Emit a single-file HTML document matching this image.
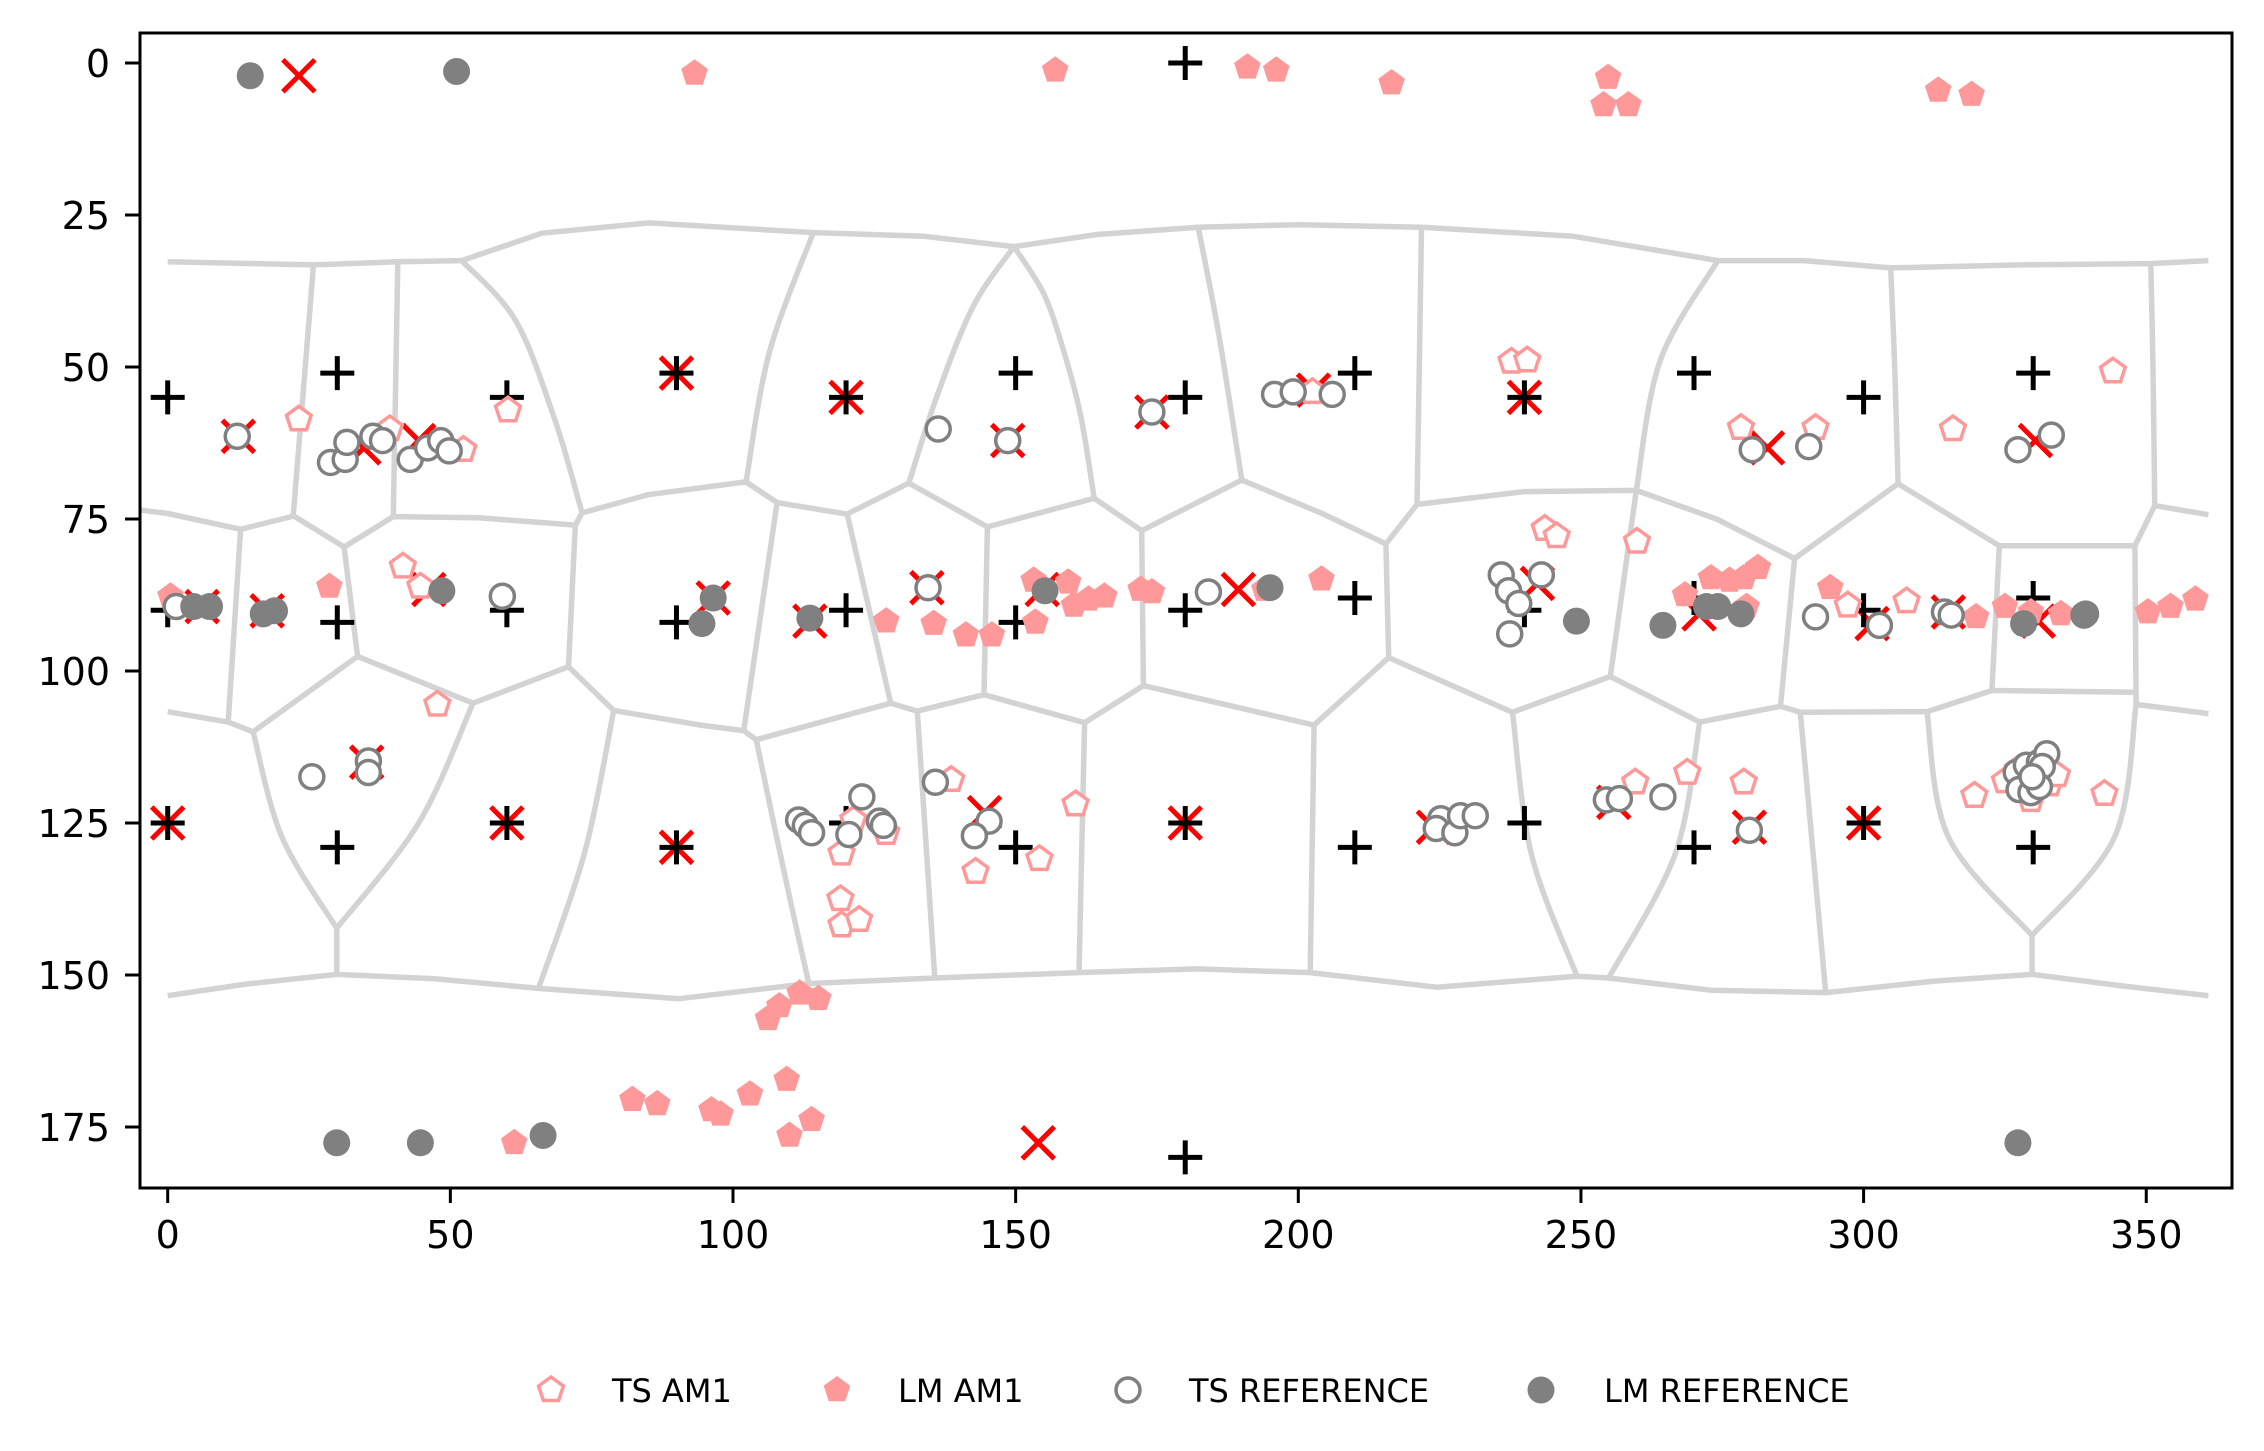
<!DOCTYPE html>
<html><head><meta charset="utf-8"><title>Conformer map</title>
<style>html,body{margin:0;padding:0;background:#fff}svg{display:block}</style></head>
<body>
<svg id="chart" xmlns="http://www.w3.org/2000/svg" width="2264" height="1451" viewBox="0 0 2264 1451" font-family="'DejaVu Sans','Liberation Sans',sans-serif">
<rect width="2264" height="1451" fill="#fff"/>
<g id="cells"></g>
<g id="marks"></g>
<rect x="140" y="33" width="2092" height="1155" fill="none" stroke="#000" stroke-width="3"/>
<g id="axes"></g>
<g id="legend"></g>
</svg>
<script>
// ---- data (degrees) ----
const xTicks = [0,50,100,150,200,250,300,350];
const yTicks = [0,25,50,75,100,125,150,175];
const gridX = [0,30,60,90,120,150,180,210,240,270,300,330,0,30,60,90,120,150,180,210,240,270,300,330,0,30,60,90,120,150,180,210,240,270,300,330,180,180];
const gridY = [55,51,55,51,55,51,55,51,55,51,55,51,90,92,90,92,90,92,90,88,90,88,90,88,125,129,125,129,125,129,125,129,125,129,125,129,0,180];
const xMarkX = [23.2,154,189.4,90,120,240,0,60,90,180,300,12.5,34.7,44.4,148.6,174.1,202.7,283,330.4,6.1,17.6,46.2,96.5,113.6,134.3,154.7,242.3,270.9,301.5,315,330.9,35.2,144.5,223.9,255.8,279.8];
const xMarkY = [2.1,177.6,86.6,51,55,55,125,125,129,125,125,61.4,63.3,62.1,62.1,57.4,53.8,63.3,62.1,89.4,90.1,86.6,88,91.8,86.3,86.6,85.6,90.6,92.2,90.3,91.8,115,123.3,125.7,121.6,125.7];
const tsAm1X = [23.2,39.3,60.2,52.3,41.6,44.7,47.7,202.5,237.7,240.5,243.6,245.7,259.9,278.3,291.5,315.8,344.1,297.2,307.6,259.6,268.8,278.8,138.6,160.6,121.3,127.1,119.2,142.9,154.2,119,119.2,122.3,319.6,325,327.3,329.6,332.9,334.2,342.6];
const tsAm1Y = [58.6,60.2,57.1,63.6,82.8,86.1,105.5,54.1,49.1,48.9,76.6,77.8,78.7,60,60,60.2,50.7,89.2,88.5,118.3,116.7,118.3,117.9,121.9,124.5,126.6,130,133,130.9,137.5,141.8,140.9,120.5,118.1,116.2,121.2,118.6,117.1,120.2];
const lmAm1X = [93.2,157,191,196.1,216.5,254.8,254,258.4,313.2,319.1,0.5,28.6,127.1,135.5,141.2,145.8,153.2,153.5,159.3,160.3,162.9,165.7,172.1,174.1,194,204.1,268.4,273,276.3,278.8,281.3,279.3,294.1,319.9,325,329.6,334.9,350.3,354.3,358.7,106.2,108.2,111.8,115.1,82.2,86.6,96.2,97.8,103,109.5,110,113.9,61.3];
const lmAm1Y = [1.7,1.2,0.7,1.2,3.3,2.4,6.9,6.9,4.5,5.2,87.7,86.1,91.8,92.2,94.1,94.1,85.1,92,85.4,89.2,88.2,87.7,86.6,87,86.6,84.9,87.5,84.7,85.1,84.7,83,89.4,86.3,91.1,89.4,90.3,90.6,90.3,89.4,88.2,157.2,155.1,153,153.9,170.5,171.2,172.2,172.9,169.6,167.2,176.4,173.8,177.6];
const tsRefX = [12.3,28.8,31.4,31.7,36.3,38,42.9,46,48.3,49.8,136.3,148.6,174.1,195.8,199.1,206,280.3,290.3,327.3,333.2,1.5,59.2,134.5,184.1,235.9,237.2,239,237.4,243,291.5,302.8,314.3,315.5,339,25.5,35.5,35.5,111.6,112.8,113.9,122.8,120.5,125.9,126.6,135.8,145.3,142.7,225.2,224.4,227.7,228.7,231.3,254.5,256.8,264.5,279.8,327,328.8,331.1,332.4,331.6,327.5,329.6,331.1,329.8];
const tsRefY = [61.4,65.7,65.2,62.4,61.4,62.1,65.2,63.3,62.1,63.8,60.2,62.1,57.4,54.5,54.1,54.5,63.6,63.1,63.6,61.2,89.4,87.7,86.3,87,84.2,86.8,88.9,93.9,84.2,91.1,92.5,90.3,90.8,90.8,117.4,114.8,116.7,124.5,125.4,126.6,120.7,126.9,124.7,125.4,118.3,124.7,127.1,124.3,125.9,126.6,123.8,123.8,121.2,121,120.7,126.2,116.7,115.5,115,113.6,115.7,119.5,120,119,117.4];
const lmRefX = [14.6,51.1,4.6,7.4,16.9,18.9,48.5,96.5,94.5,113.6,155.2,195,249.2,264.5,272.2,274.2,278.3,328.3,339.3,29.9,44.7,66.4,327.3];
const lmRefY = [2.1,1.4,89.4,89.4,90.6,90.1,86.8,88,92.2,91.3,86.8,86.3,91.8,92.5,89.4,89.4,90.6,92.2,90.6,177.6,177.6,176.4,177.6];
const seriesNames = ["TS AM1","LM AM1","TS REFERENCE","LM REFERENCE"];
// cell boundary polylines, in degrees [x,y,...]
const cellLines = [
 [0,32.7,25.8,33.2,40.6,32.7,52,32.5,66.2,28,85.1,26.3,114.2,27.9,133.8,28.5,149.7,30.2,164.4,28.2,182.3,27,200.2,26.6,221.8,27,248.7,28.5,274.2,32.5,289.5,32.5,304.8,33.7,327.8,33.2,350.8,33,361,32.5],
 [25.8,33.2,22.2,74.5],[40.7,32.8,39.9,74.6],[52,32.5,61.5,42.3,68.5,58.7,73.3,74],
 [114.2,27.9,106.4,47.7,102.3,68.9],[149.7,30.2,142.5,40,136,55,131.1,69.1],[149.7,30.2,155,38,158.6,47.7,161.5,58,163.9,71.6],
 [182.3,27,186,45,190,68.6],[221.8,27,221.4,50,221,72.6],[274.2,32.5,264,49,259.8,70.3],[304.8,33.7,305.5,50,306.1,69.2],[350.8,33,351.2,50,351.5,72.8],
 [-5,73.5,0,74.1,12.9,76.7,22.3,74.5,31.2,79.6,39.9,74.6,55,74.8,72.1,76,73.3,74,85,71,102.3,68.9,107.8,72.3,120.2,74.2,131.1,69.1,145,76.3,163.9,71.6,172.3,76.9,190,68.6,204,74,215.5,79.1,221,72.6,240,70.5,259.8,70.3,274,75,287.8,81.5,306.1,69.2,324,79.4,348,79.4,351.5,72.8,361,74.3],
 [12.9,76.7,10.7,108.4],[31.2,79.6,33.6,97.6],[72.1,76,70.9,99.3],[107.8,72.3,101.9,109.8],[120.2,74.2,127.9,105.3],[145,76.3,144.4,103.9],[172.3,76.9,172.6,102.4],[215.5,79.1,216,97.8],[259.8,70.3,255.2,100.9],[287.8,81.5,285.3,105.8],[324,79.4,322.7,103.2],[348,79.4,348.2,105.5],
 [0,106.7,10.7,108.4,15.1,110,33.6,97.6,54,105.3,70.9,99.3,78.9,106.5,94.2,108.9,101.9,109.8,104.1,111.3,127.9,105.3,132.6,106.6,144.4,103.9,162.2,108.5,172.6,102.4,202.8,108.9,216,97.8,237.9,106.8,255.2,100.9,271,108.4,285.3,105.8,288.8,106.8,311.2,106.7,322.7,103.2,348.2,103.5,348.2,105.5,361,107],
 [15.1,110,20.2,127.3,29.9,142.3],[54,105.3,44.4,125,29.9,142.3],[29.9,142.3,29.9,149.9],[78.9,106.5,73.8,129.7,65.6,152.2],
 [104.1,111.3,109,132.9,113.4,151.4],[132.6,106.6,135.7,150.5],[162.2,108.5,161.2,149.6],[202.8,108.9,202.1,149.6],[237.9,106.8,241.2,130,249.3,150.2],[271,108.4,266.7,130,254.9,150.5],[288.8,106.8,293.3,152.9],
 [311.2,106.7,315,127.3,329.8,143.5],[348.2,105.5,344.4,127.3,329.8,143.5],[329.8,143.5,329.8,149.9],
 [0,153.4,13.8,151.5,29.9,149.9,47,150.6,65.6,152.2,90.4,153.9,113.4,151.4,135.7,150.5,161.2,149.6,182,149,202.1,149.6,224.5,152,249.3,150.2,254.9,150.5,273,152.5,293.3,152.9,312.5,151,329.8,149.9,345.7,151.8,361,153.4]
];
// ---- axis functions ----
const X0=167.7, XS=5.653, Y0=63, YS=6.08;
const sx = v => X0 + v*XS;
const sy = v => Y0 + v*YS;
const NS="http://www.w3.org/2000/svg";
function mk(tag, attrs, parent){const e=document.createElementNS(NS,tag);for(const k in attrs)e.setAttribute(k,attrs[k]);parent.appendChild(e);return e;}
const cells=document.getElementById('cells'), marks=document.getElementById('marks'), axes=document.getElementById('axes'), legend=document.getElementById('legend');
const clip=mk('clipPath',{id:'pc'},document.getElementById('chart'));
mk('rect',{x:140,y:33,width:2092,height:1155},clip);
cells.setAttribute('clip-path','url(#pc)');
function pathFor(l){const P=[];for(let i=0;i<l.length;i+=2)P.push([sx(l[i]),sy(l[i+1])]);
 if(P.length<3||P.length>5){return 'M'+P.map(p=>p[0].toFixed(1)+','+p[1].toFixed(1)).join('L');}
 let d='M'+P[0][0].toFixed(1)+','+P[0][1].toFixed(1);
 for(let i=0;i<P.length-1;i++){const p0=P[Math.max(0,i-1)],p1=P[i],p2=P[i+1],p3=P[Math.min(P.length-1,i+2)];
  const c1=[p1[0]+(p2[0]-p0[0])/6,p1[1]+(p2[1]-p0[1])/6],c2=[p2[0]-(p3[0]-p1[0])/6,p2[1]-(p3[1]-p1[1])/6];
  d+=`C${c1[0].toFixed(1)},${c1[1].toFixed(1)} ${c2[0].toFixed(1)},${c2[1].toFixed(1)} ${p2[0].toFixed(1)},${p2[1].toFixed(1)}`;}
 return d;}
cellLines.forEach(l=>{
 const e=mk('path',{d:pathFor(l),fill:'none',stroke:'#d3d3d3','stroke-width':5.5,'stroke-linejoin':'round'},cells);
 
 });
function pent(cx,cy,r){let p=[];for(let k=0;k<5;k++){const a=-Math.PI/2+k*2*Math.PI/5;p.push((cx+r*Math.cos(a)).toFixed(1)+','+(cy+r*Math.sin(a)).toFixed(1));}return p.join(' ');}
function drawX(x,y,g){const s=16;return mk('path',{d:`M${x-s},${y-s}L${x+s},${y+s}M${x-s},${y+s}L${x+s},${y-s}`,stroke:'#ff0000','stroke-width':5,fill:'none'},g);}
function drawPlus(x,y,g){const s=17;return mk('path',{d:`M${x-s},${y}L${x+s},${y}M${x},${y-s}L${x},${y+s}`,stroke:'#000','stroke-width':5,fill:'none'},g);}
function drawTsAm1(x,y,g){return mk('polygon',{points:pent(x,y,13),fill:'#fff',stroke:'#ff9999','stroke-width':3.5},g);}
function drawLmAm1(x,y,g){return mk('polygon',{points:pent(x,y,14),fill:'#ff9999'},g);}
function drawTsRef(x,y,g){return mk('circle',{cx:x,cy:y,r:12,fill:'#fff',stroke:'#808080','stroke-width':3.5},g);}
function drawLmRef(x,y,g){return mk('circle',{cx:x,cy:y,r:13.5,fill:'#808080'},g);}
xMarkX.forEach((v,i)=>{const e=drawX(sx(v),sy(xMarkY[i]),marks);
 
 });
gridX.forEach((v,i)=>{const e=drawPlus(sx(v),sy(gridY[i]),marks);
 
 });
tsAm1X.forEach((v,i)=>{const e=drawTsAm1(sx(v),sy(tsAm1Y[i]),marks);
 
 });
lmAm1X.forEach((v,i)=>{const e=drawLmAm1(sx(v),sy(lmAm1Y[i]),marks);
 
 });
tsRefX.forEach((v,i)=>{const e=drawTsRef(sx(v),sy(tsRefY[i]),marks);
 
 });
lmRefX.forEach((v,i)=>{const e=drawLmRef(sx(v),sy(lmRefY[i]),marks);
 
 });
// axes
xTicks.forEach(t=>{const x=sx(t);
 const l=mk('line',{x1:x,y1:1188,x2:x,y2:1203,stroke:'#000','stroke-width':3},axes);
 
 
 const tx=mk('text',{x:x,y:1248,'font-size':38,'text-anchor':'middle',fill:'#000'},axes);tx.textContent=t;
 
 });
yTicks.forEach(t=>{const y=sy(t);
 const l=mk('line',{x1:125,y1:y,x2:140,y2:y,stroke:'#000','stroke-width':3},axes);
 
 
 const tx=mk('text',{x:110,y:y+14,'font-size':38,'text-anchor':'end',fill:'#000'},axes);tx.textContent=t;
 
 });
// legend
const legMX=[551,837,1128,1541], legTX=[612,898,1189,1604], LY=1390;
const drawers=[drawTsAm1,drawLmAm1,drawTsRef,drawLmRef];
seriesNames.forEach((n,i)=>{const g=mk('g',{},legend);
 
 
 drawers[i](legMX[i],LY,g);
 const t=mk('text',{x:legTX[i],y:LY+12,'font-size':32,fill:'#000'},g);t.textContent=n;});
</script>
</body></html>
